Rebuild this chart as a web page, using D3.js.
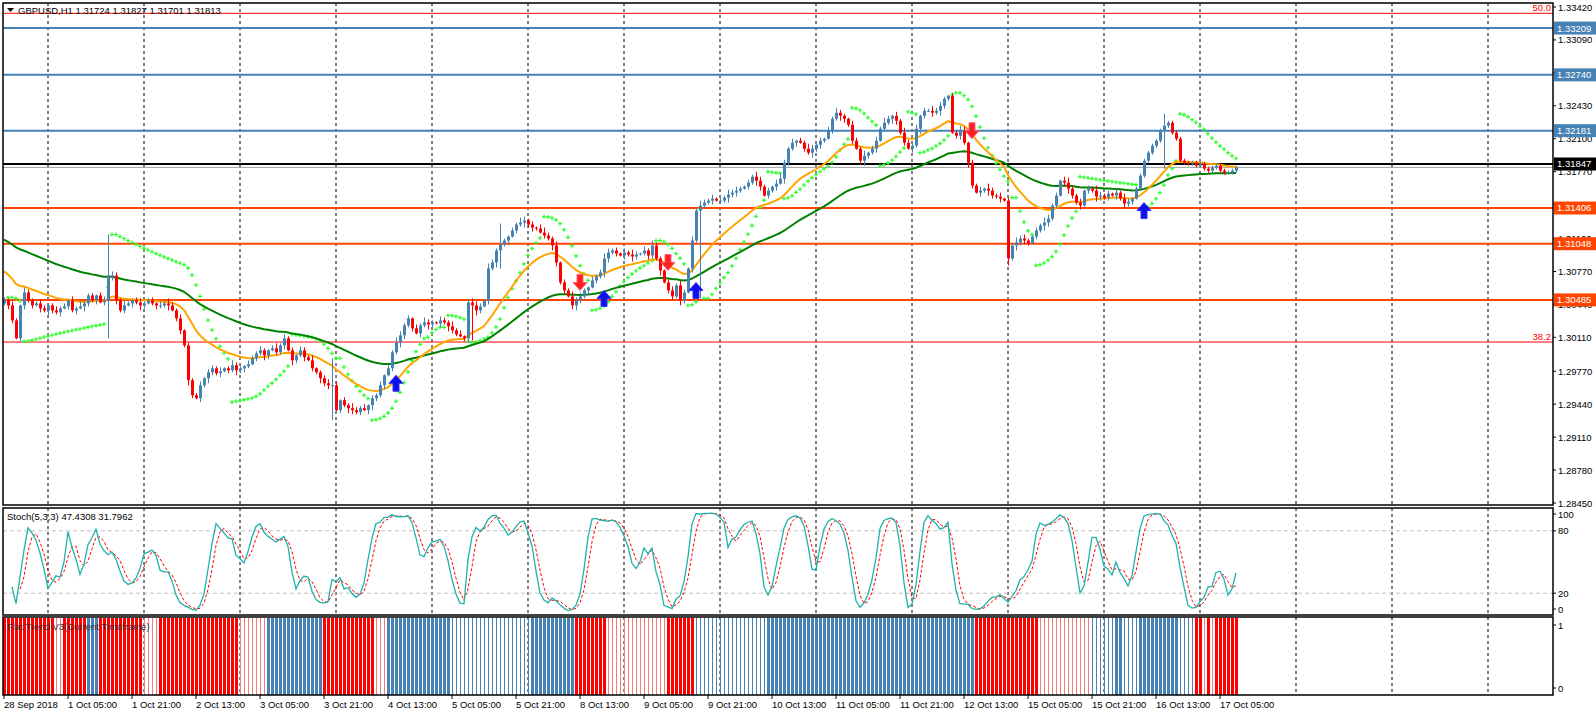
<!DOCTYPE html>
<html><head><meta charset="utf-8">
<script src="https://cdn.jsdelivr.net/npm/d3@7"></script>
<style>html,body{margin:0;padding:0;background:#fff;}svg{display:block;font-family:"Liberation Sans",Arial,sans-serif;}</style>
</head><body>
<svg id="c" width="1596" height="716"></svg>
<script>
// ---------- DATA ----------
const titleText = "GBPUSD,H1  1.31724 1.31827 1.31701 1.31813";
const stochText = "Stoch(5,3,3) 47.4308 31.7962";
const flatText = "Flat Trend V3(Current Timeframe)";
// hourly closes in pips (price * 10000), bar 0 = 28 Sep 13:00
const closePips = [
13048,13043,13028,13010,13043,13056,13048,13043,13045,13040,
13038,13043,13038,13036,13040,13042,13048,13038,13040,13042,
13045,13053,13048,13053,13046,13048,13073,13073,13048,13038,
13043,13045,13048,13046,13043,13045,13048,13045,13043,13043,
13045,13043,13038,13030,13018,13003,12968,12953,12950,12963,
12970,12976,12980,12975,12977,12980,12978,12983,12978,12980,
12982,12984,12990,12995,12998,12993,12998,13000,12996,
13003,13010,12998,12988,12993,12998,12991,12988,12980,12976,
12970,12965,12963,12963,12938,12948,12943,12940,12938,12936,
12940,12938,12943,12950,12953,12963,12973,12980,12996,13006,
13013,13023,13030,13020,13015,13023,13026,13024,13026,13025,
13028,13026,13022,13018,13014,13012,13010,13046,13043,13038,
13042,13048,13080,13086,13098,13104,13108,13112,13118,
13124,13126,13128,13124,13121,13120,13116,13113,13110,13103,
13086,13066,13058,13052,13043,13048,13052,13058,13061,13068,
13072,13076,13090,13096,13098,13095,13093,13096,13094,13092,
13094,13095,13098,13093,13103,13090,13078,13066,13058,13052,
13063,13048,13056,13080,13108,13138,13143,13146,13148,13150,
13148,13148,13151,13154,13156,13158,13160,13162,13166,
13172,13168,13162,13153,13158,13162,13165,13170,13186,13200,
13206,13208,13206,13200,13196,13200,13204,13208,13210,13218,
13230,13236,13233,13230,13224,13208,13200,13188,13193,13196,
13200,13208,13220,13226,13230,13233,13228,13216,13206,13200,
13203,13220,13233,13238,13238,13236,13238,13243,13250,13253,
13216,13213,13218,13206,13186,13163,13156,13158,13160,
13158,13153,13152,13150,13148,13090,13103,13106,13110,13108,
13105,13112,13118,13123,13126,13130,13143,13153,13168,13166,
13160,13153,13146,13143,13158,13160,13158,13152,13153,13151,
13155,13153,13156,13150,13145,13147,13150,13160,13173,13188,
13196,13203,13208,13218,13223,13226,13216,13210,13188,13186,
13185,13186,13183,13185,13180,13178,13181,13183,13178,
13176,13176,13178,13181];
const firstOpenPips = 13045;
// wick lengths in pips above / below the body, one digit per bar
const wickUp = "32421532243124231425322134243252134223142532413224133241253214324213524231432512342413253241324132542314253214325241324315324213254231453241325342142354231425314253213425314253241325342132542314532413254231425321432513425314253241325342132541324153241325342132542314532413254231425312";
const wickDn = "24313423142532413241532413254231425312432513425314253241325342132541324153241325342132542314532413254231425314253213425314253241325342132542314532413254231425312432513425314253241325342132541324153241325342132542314532413254231425314253213425314253241325342132542314532413254231425331";
// a few long wicks: [bar, highPips, lowPips]
const wickOverrides = [[26,13114,13010],[82,12990,12928],[117,13050,13008],[124,13125,13080],[237,13256,13230],[251,13150,13083],[290,13235,13180],[174,13112,13050]];
// moving-average starting values read at the left edge
const fastMAStart = 13080, slowMAStart = 13111;
const fastPeriod = 21, slowPeriod = 60;
// Flat Trend states (R strong red, r light red, B strong blue, b light blue) as runs
const flatRuns = [["R",13],["r",2],["R",6],["B",3],["R",11],["r",4],["R",20],["r",7],["B",14],["R",13],["r",3],["B",16],["b",20],["B",11],["R",8],["r",15],["R",7],["b",18],["B",52],["R",16],["r",13],["b",6],["B",2],["b",4],["B",10],["b",4],["R",2],["r",1],["R",1],["r",1],["R",6]];
// signal arrows: [bar, price, type]
const arrows = [[98,1.2973,"up"],[144,1.3058,"down"],[150,1.3058,"up"],[166,1.3078,"down"],[173,1.3066,"up"],[242,1.3210,"down"],[285,1.3146,"up"]];
// horizontal levels
const blueLevels = [1.33209, 1.32740, 1.32181];
const orangeLevels = [1.31406, 1.31048, 1.30485];
const fibLevels = [[1.33357,"50.0"],[1.30063,"38.2"]];
const currentLevel = 1.31847, bidLevel = 1.31813;
const priceTicks = ["1.33420","1.33090","1.32760","1.32430","1.32100","1.31770","1.31440","1.31100","1.30770","1.30440","1.30110","1.29770","1.29440","1.29110","1.28780","1.28450"];
const timeLabels = [[0,"28 Sep 2018"],[16,"1 Oct 05:00"],[32,"1 Oct 21:00"],[48,"2 Oct 13:00"],[64,"3 Oct 05:00"],[80,"3 Oct 21:00"],[96,"4 Oct 13:00"],[112,"5 Oct 05:00"],[128,"5 Oct 21:00"],[144,"8 Oct 13:00"],[160,"9 Oct 05:00"],[176,"9 Oct 21:00"],[192,"10 Oct 13:00"],[208,"11 Oct 05:00"],[224,"11 Oct 21:00"],[240,"12 Oct 13:00"],[256,"15 Oct 05:00"],[272,"15 Oct 21:00"],[288,"16 Oct 13:00"],[304,"17 Oct 05:00"]];
const dayStarts = [11,35,59,83,107,131,155,179,203,227,251,275,299,323,347,371];
const stochLevels = [80,20];

// ---------- BUILD ----------
const FS = 9.5;
const N = closePips.length;
const close = closePips.map(v=>v/1e4);
const open = close.map((c,i)=> i===0 ? firstOpenPips/1e4 : close[i-1]);
const high = [], low = [];
for(let i=0;i<N;i++){
  const u = +(wickUp[i]||"2"), d = +(wickDn[i]||"2");
  high.push(Math.max(open[i],close[i]) + u/1e4);
  low.push(Math.min(open[i],close[i]) - d/1e4);
}
wickOverrides.forEach(([i,h,l])=>{ if(i<N){ high[i]=Math.max(high[i],h/1e4); low[i]=Math.min(low[i],l/1e4);} });

function ema(vals, period, start){ const a=2/(period+1); let e=start; return vals.map(v=> e = e + a*(v-e)); }
const fastMA = ema(close, fastPeriod, fastMAStart/1e4);
const slowMA = ema(close, slowPeriod, slowMAStart/1e4);

const sar=[]; {
  let up=true, af=0.02, ep=high[0], s=low[0];
  sar.push(null);
  for(let i=1;i<N;i++){
    s = s + af*(ep-s);
    if(up){
      s = Math.min(s, low[i-1], i>1?low[i-2]:low[i-1]);
      if(low[i]<s){ up=false; s=ep; ep=low[i]; af=0.02; }
      else if(high[i]>ep){ ep=high[i]; af=Math.min(af+0.02,0.2); }
    } else {
      s = Math.max(s, high[i-1], i>1?high[i-2]:high[i-1]);
      if(high[i]>s){ up=true; s=ep; ep=high[i]; af=0.02; }
      else if(low[i]<ep){ ep=low[i]; af=Math.min(af+0.02,0.2); }
    }
    sar.push(s);
  }
}
const num=[], den=[], K=[], D=[];
for(let i=0;i<N;i++){
  const a=Math.max(0,i-4);
  const hh=d3.max(high.slice(a,i+1)), ll=d3.min(low.slice(a,i+1));
  num.push(close[i]-ll); den.push(hh-ll);
  if(i>=2){ const n=num[i]+num[i-1]+num[i-2], dd=den[i]+den[i-1]+den[i-2]; K.push(dd>0?100*n/dd:50);} else K.push(null);
  if(i>=4){ D.push((K[i]+K[i-1]+K[i-2])/3);} else D.push(null);
}
const flat=[]; flatRuns.forEach(([s,n])=>{for(let k=0;k<n;k++) flat.push(s);});

// ---------- SCALES ----------
const svg = d3.select("#c");
const L=3, R=1553;
const x = d3.scaleLinear().domain([11,299]).range([48,1200]);
const y = d3.scaleLinear().domain([1.2845,1.3342]).range([503,7]);
const ys = d3.scaleLinear().domain([0,100]).range([614,510]);
const mainTop=3, mainBot=505, stTop=508, stBot=615, ftTop=617, ftBot=695;

const defs=svg.append("defs");
defs.append("clipPath").attr("id","cm").append("rect").attr("x",L).attr("y",mainTop).attr("width",R-L).attr("height",mainBot-mainTop);
defs.append("clipPath").attr("id","cs").append("rect").attr("x",L).attr("y",stTop).attr("width",R-L).attr("height",stBot-stTop);

const grid = svg.append("g");
dayStarts.map(d=>x(d)).filter(v=>v<R).forEach(gx=>{
  [[mainTop,mainBot],[stTop,stBot],[ftTop,ftBot]].forEach(([a,b])=>{
    grid.append("line").attr("x1",gx).attr("x2",gx).attr("y1",a).attr("y2",b)
      .attr("stroke","#000").attr("stroke-width",1).attr("stroke-dasharray","3,3");
  });
});

// ---------- MAIN PANEL ----------
const gm = svg.append("g").attr("clip-path","url(#cm)");
fibLevels.forEach(([p])=> gm.append("line").attr("x1",L).attr("x2",R).attr("y1",y(p)).attr("y2",y(p)).attr("stroke","#FF0000").attr("stroke-width",1));
blueLevels.forEach(p=> gm.append("line").attr("x1",L).attr("x2",R).attr("y1",y(p)).attr("y2",y(p)).attr("stroke","#4682B4").attr("stroke-width",2));
orangeLevels.forEach(p=> gm.append("line").attr("x1",L).attr("x2",R).attr("y1",y(p)).attr("y2",y(p)).attr("stroke","#FF4500").attr("stroke-width",2));
gm.append("line").attr("x1",L).attr("x2",R).attr("y1",y(bidLevel)).attr("y2",y(bidLevel)).attr("stroke","#A0A0A0").attr("stroke-width",1);
gm.append("line").attr("x1",L).attr("x2",R).attr("y1",y(currentLevel)).attr("y2",y(currentLevel)).attr("stroke","#000").attr("stroke-width",2);

const sarG = gm.append("g");
sar.forEach((s,i)=>{ if(s==null) return;
  const cx=x(i), cy=y(s);
  sarG.append("path").attr("d",`M${cx-2},${cy}h4M${cx},${cy-2}v4`).attr("stroke","#33FF33").attr("stroke-width",1.3);
});
const line = d3.line().x((d,i)=>x(i)).y(d=>y(d));
gm.append("path").attr("d",line(slowMA)).attr("fill","none").attr("stroke","#008000").attr("stroke-width",2);
gm.append("path").attr("d",line(fastMA)).attr("fill","none").attr("stroke","#FFA500").attr("stroke-width",2);
const cg = gm.append("g");
for(let i=0;i<N;i++){
  const up = close[i]>=open[i], col = up?"#4682B4":"#FF0000", cx=Math.round(x(i));
  cg.append("line").attr("x1",cx+0.5).attr("x2",cx+0.5).attr("y1",y(high[i])).attr("y2",y(low[i])).attr("stroke",col).attr("stroke-width",1);
  const t=y(Math.max(open[i],close[i])), b=y(Math.min(open[i],close[i]));
  cg.append("rect").attr("x",cx-1).attr("y",t).attr("width",3).attr("height",Math.max(1,b-t)).attr("fill",col);
}
arrows.forEach(([i,p,t])=>{
  const cx=x(i), cy=y(p);
  if(t==="up"){
    gm.append("path").attr("d",`M${cx},${cy} l7,8 h-4 v8 h-6 v-8 h-4 Z`).attr("fill","#1010E8").attr("stroke","#3030FF").attr("stroke-width",1);
  } else {
    gm.append("path").attr("d",`M${cx},${cy} l7,-8 h-4 v-8 h-6 v8 h-4 Z`).attr("fill","#FF2020").attr("stroke","#FF6080").attr("stroke-width",1);
  }
});

svg.append("path").attr("d","M7,8 h7 l-3.5,4 Z").attr("fill","#000");
svg.append("text").attr("x",18).attr("y",14).attr("font-size",FS).attr("fill","#000").text(titleText);

const ax = svg.append("g");
priceTicks.forEach(t=>{ const py=y(+t);
  ax.append("line").attr("x1",R).attr("x2",R+3).attr("y1",py).attr("y2",py).attr("stroke","#000");
  ax.append("text").attr("x",R+5).attr("y",py+3.5).attr("font-size",FS).attr("fill","#000").text(t);
});
function box(p,fill,txt){ const py=y(p);
  ax.append("rect").attr("x",R+1).attr("y",py-6.5).attr("width",42).attr("height",13).attr("fill",fill);
  ax.append("text").attr("x",R+4).attr("y",py+3.5).attr("font-size",FS).attr("fill","#fff").text(txt);
}
blueLevels.forEach(p=>box(p,"#4682B4",p.toFixed(5)));
orangeLevels.forEach(p=>box(p,"#FF4500",p.toFixed(5)));
box(currentLevel,"#000",currentLevel.toFixed(5));
fibLevels.forEach(([p,l])=> svg.append("text").attr("x",R-2).attr("y",y(p)-2).attr("text-anchor","end").attr("font-size",FS).attr("fill","#FF0000").text(l));

// ---------- STOCH ----------
const gs = svg.append("g").attr("clip-path","url(#cs)");
stochLevels.forEach(v=> gs.append("line").attr("x1",L).attr("x2",R).attr("y1",ys(v)).attr("y2",ys(v)).attr("stroke","#C0C0C0").attr("stroke-dasharray","4,3"));
const sl = d3.line().defined(d=>d!=null).x((d,i)=>x(i)).y(d=>ys(d));
gs.append("path").attr("d",sl(D)).attr("fill","none").attr("stroke","#FF0000").attr("stroke-width",1).attr("stroke-dasharray","3,2");
gs.append("path").attr("d",sl(K)).attr("fill","none").attr("stroke","#20B2AA").attr("stroke-width",1.3);
svg.append("text").attr("x",7).attr("y",520).attr("font-size",FS).attr("fill","#000").text(stochText);
[[100,"100"],[80,"80"],[20,"20"],[0,"0"]].forEach(([v,t])=>{
  const py = v===100?ys(100)+4:(v===0?ys(0)-5:ys(v));
  svg.append("line").attr("x1",R).attr("x2",R+3).attr("y1",py).attr("y2",py).attr("stroke","#000");
  svg.append("text").attr("x",R+5).attr("y",py+3.5).attr("font-size",FS).text(t);
});

// ---------- FLAT TREND ----------
const gf = svg.append("g");
const fcol = {R:"#FF0000", r:"#F08080", B:"#4682B4", b:"#4682B4"};
flat.forEach((s,i)=>{ if(i>=N) return;
  const wide = (s==="R"||s==="B");
  gf.append("rect").attr("x",Math.round(x(i))-(wide?1:0)).attr("y",ftTop+1).attr("width",wide?3:1).attr("height",ftBot-ftTop-1).attr("fill",fcol[s]);
});
svg.append("text").attr("x",7).attr("y",630).attr("font-size",FS).attr("fill","#333").text(flatText);
[[625,"1"],[688,"0"]].forEach(([py,t])=>{
  svg.append("line").attr("x1",R).attr("x2",R+3).attr("y1",py).attr("y2",py).attr("stroke","#000");
  svg.append("text").attr("x",R+5).attr("y",py+3.5).attr("font-size",FS).text(t);
});

[[mainTop,mainBot],[stTop,stBot],[ftTop,ftBot]].forEach(([a,b])=>{
  svg.append("rect").attr("x",L).attr("y",a).attr("width",R-L).attr("height",b-a).attr("fill","none").attr("stroke","#000").attr("stroke-width",1.5);
});

timeLabels.forEach(([i,t])=>{ const tx=x(i);
  svg.append("line").attr("x1",tx).attr("x2",tx).attr("y1",ftBot).attr("y2",ftBot+4).attr("stroke","#000");
  svg.append("text").attr("x",tx).attr("y",708).attr("font-size",FS).attr("fill","#000").text(t);
});
</script>
</body></html>
